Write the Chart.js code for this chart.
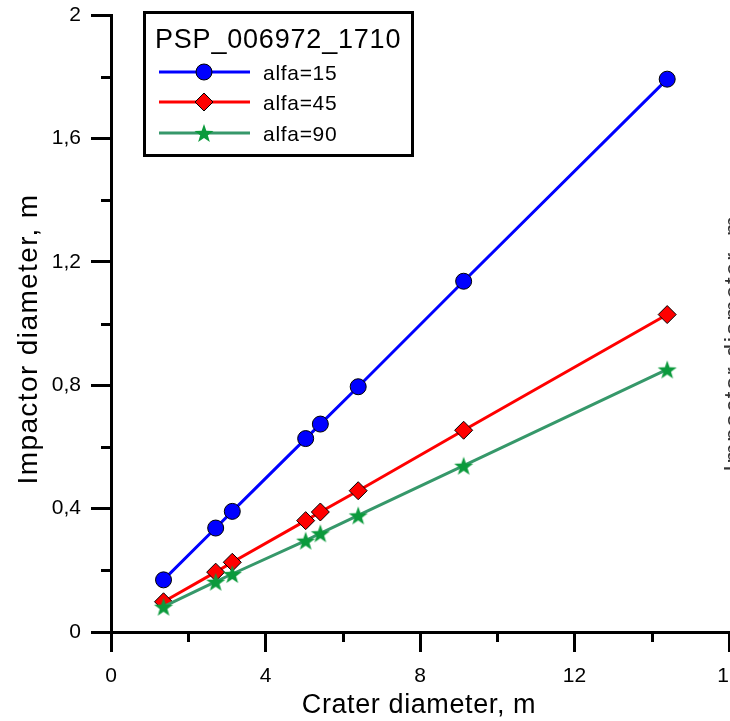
<!DOCTYPE html>
<html>
<head>
<meta charset="utf-8">
<title>PSP_006972_1710</title>
<script src="https://cdn.jsdelivr.net/npm/chart.js@4.4.1/dist/chart.umd.min.js"></script>
<style>
  html, body { margin: 0; padding: 0; background: #fff; }
  .chart-box { width: 730px; height: 721px; overflow: hidden; }
</style>
</head>
<body>
<div class="chart-box"><canvas id="myChart" width="730" height="721"></canvas></div>
<script>
// data
const craterDiameter = [1.36, 2.71, 3.14, 5.04, 5.42, 6.40, 9.13, 14.40];
const alfa15 = [0.169, 0.337, 0.391, 0.627, 0.674, 0.795, 1.137, 1.792];
const alfa45 = [0.098, 0.194, 0.226, 0.361, 0.389, 0.458, 0.654, 1.029];
const alfa90 = [0.082, 0.163, 0.188, 0.296, 0.320, 0.378, 0.539, 0.851];

const seriesNames = ['alfa=15', 'alfa=45', 'alfa=90'];
const legendTitle = 'PSP_006972_1710';
const xTitle = 'Crater diameter, m';
const yTitle = 'Impactor diameter, m';

const xTicks = [0, 4, 8, 12, 16];
const xTickLabels = ['0', '4', '8', '12', '16'];
const xMinorTicks = [2, 6, 10, 14];
const yTicks = [0, 0.4, 0.8, 1.2, 1.6, 2];
const yTickLabels = ['0', '0,4', '0,8', '1,2', '1,6', '2'];
const yMinorTicks = [0.2, 0.6, 1.0, 1.4, 1.8];

const FONT = '"Liberation Sans", Arial, sans-serif';

function makeStar(outer, inner, color) {
  const size = Math.ceil(outer * 2) + 2;
  const c = document.createElement('canvas');
  c.width = c.height = size;
  const g = c.getContext('2d');
  g.fillStyle = color;
  g.beginPath();
  for (let i = 0; i < 10; i++) {
    const r = i % 2 ? inner : outer;
    const a = -Math.PI / 2 + i * Math.PI / 5;
    g.lineTo(size / 2 + r * Math.cos(a), size / 2 + 1 + r * Math.sin(a));
  }
  g.closePath();
  g.fill();
  return c;
}

const starImg = makeStar(10, 4, '#0b9a3c');

const styles = [
  {line: '#0000ff', fill: '#0000ff', point: 'circle', radius: 8, border: 1},
  {line: '#ff0000', fill: '#ff0000', point: 'rectRot', radius: 9, border: 1},
  {line: '#36986a', fill: '#0b9a3c', point: starImg, radius: 10, border: 0}
];

function toPoints(ys) {
  return craterDiameter.map((x, i) => ({x: x, y: ys[i]}));
}

function setSpacing(ctx, px) {
  if ('letterSpacing' in ctx) ctx.letterSpacing = px + 'px';
}

function drawMarker(ctx, style, x, y) {
  ctx.save();
  ctx.fillStyle = style.fill;
  ctx.strokeStyle = '#000';
  ctx.lineWidth = style.border;
  if (style.point === 'circle') {
    ctx.beginPath();
    ctx.arc(x, y, style.radius, 0, Math.PI * 2);
    ctx.fill();
    ctx.stroke();
  } else if (style.point === 'rectRot') {
    const r = style.radius;
    ctx.beginPath();
    ctx.moveTo(x - r, y);
    ctx.lineTo(x, y - r);
    ctx.lineTo(x + r, y);
    ctx.lineTo(x, y + r);
    ctx.closePath();
    ctx.fill();
    ctx.stroke();
  } else {
    ctx.drawImage(style.point, x - style.point.width / 2, y - style.point.height / 2);
  }
  ctx.restore();
}

// keep the x axis running to the canvas edge, the last label gets cut like in the original
const layoutFix = {
  id: 'layoutFix',
  afterLayout(chart) {
    const xs = chart.scales.x;
    const area = chart.chartArea;
    area.right = chart.width - 1;
    area.width = area.right - area.left;
    xs.right = area.right;
    xs.width = xs.right - xs.left;
    xs.configure();
  }
};

const decorPlugin = {
  id: 'decor',
  afterDraw(chart) {
    const ctx = chart.ctx;
    const {left, bottom} = chart.chartArea;
    const xs = chart.scales.x;
    const ys = chart.scales.y;

    ctx.save();
    // minor ticks
    ctx.strokeStyle = '#000';
    ctx.lineWidth = 3;
    ctx.beginPath();
    xMinorTicks.forEach(v => {
      const px = Math.round(xs.getPixelForValue(v)) + 0.5;
      ctx.moveTo(px, bottom);
      ctx.lineTo(px, bottom + 10);
    });
    yMinorTicks.forEach(v => {
      const py = Math.round(ys.getPixelForValue(v)) + 0.5;
      ctx.moveTo(left, py);
      ctx.lineTo(left - 10, py);
    });
    ctx.stroke();

    // axis titles
    ctx.fillStyle = '#000';
    ctx.textAlign = 'center';
    ctx.textBaseline = 'alphabetic';
    ctx.font = '27px ' + FONT;
    setSpacing(ctx, 0.6);
    ctx.fillText(xTitle, 419, 713);

    ctx.save();
    ctx.translate(37, 339);
    ctx.rotate(-Math.PI / 2);
    ctx.font = '28px ' + FONT;
    setSpacing(ctx, 1.4);
    ctx.fillText(yTitle, 0, 0);
    ctx.restore();

    // cut-off title of the right axis
    ctx.save();
    ctx.translate(741, 343);
    ctx.rotate(-Math.PI / 2);
    ctx.fillStyle = '#333';
    ctx.font = '24px ' + FONT;
    setSpacing(ctx, 1.6);
    ctx.fillText(yTitle, 0, 0);
    ctx.restore();

    // legend box
    ctx.lineWidth = 3;
    ctx.strokeRect(144.5, 12.5, 268, 143);
    ctx.textAlign = 'left';
    ctx.font = '27px ' + FONT;
    setSpacing(ctx, 0.8);
    ctx.fillText(legendTitle, 155, 48);

    const rowY = [72, 102, 133];
    ctx.font = '21px ' + FONT;
    setSpacing(ctx, 0.7);
    seriesNames.forEach((name, i) => {
      const st = styles[i];
      ctx.strokeStyle = st.line;
      ctx.lineWidth = 3;
      ctx.beginPath();
      ctx.moveTo(159, rowY[i]);
      ctx.lineTo(250, rowY[i]);
      ctx.stroke();
      drawMarker(ctx, st, 204, rowY[i]);
      ctx.fillStyle = '#000';
      ctx.fillText(name, 263, rowY[i] + 8);
    });
    ctx.restore();
  }
};

function axisOptions(ticks, labels, min, max, isX) {
  return {
    type: 'linear',
    min: min,
    max: max,
    afterBuildTicks: scale => { scale.ticks = ticks.map(v => ({value: v})); },
    afterFit: scale => {
      if (isX) {
        scale.height = 89;
        scale.paddingLeft = 0;
        scale.paddingRight = 0;
      } else {
        scale.width = 111;
        scale.paddingTop = 0;
        scale.paddingBottom = 0;
      }
    },
    ticks: {
      autoSkip: false,
      maxRotation: 0,
      color: '#000',
      padding: isX ? 12 : 10,
      font: {family: FONT, size: 21},
      callback: value => labels[ticks.indexOf(value)]
    },
    grid: {
      drawOnChartArea: false,
      tickLength: 20,
      tickWidth: 3,
      tickColor: '#000',
      lineWidth: 3,
      color: '#000'
    },
    border: {display: true, width: 3, color: '#000'}
  };
}

const seriesValues = [alfa15, alfa45, alfa90];

const ctx = document.querySelector('#myChart').getContext('2d');
// eslint-disable-next-line no-undef
const myChart = new Chart(ctx, {
  type: 'scatter',
  data: {
    datasets: seriesNames.map((name, i) => ({
      label: name,
      data: toPoints(seriesValues[i]),
      showLine: true,
      order: 3 - i,
      borderColor: styles[i].line,
      borderWidth: 3,
      backgroundColor: styles[i].fill,
      pointStyle: styles[i].point,
      pointRadius: styles[i].radius,
      pointBackgroundColor: styles[i].fill,
      pointBorderColor: '#000',
      pointBorderWidth: styles[i].border,
      clip: false
    }))
  },
  options: {
    responsive: false,
    animation: false,
    devicePixelRatio: 1,
    layout: {padding: {top: 15, right: 1, left: 0, bottom: 0}},
    plugins: {
      legend: {display: false},
      tooltip: {enabled: false}
    },
    scales: {
      x: axisOptions(xTicks, xTickLabels, 0, 16, true),
      y: axisOptions(yTicks, yTickLabels, 0, 2, false)
    }
  },
  plugins: [layoutFix, decorPlugin]
});
</script>
</body>
</html>
